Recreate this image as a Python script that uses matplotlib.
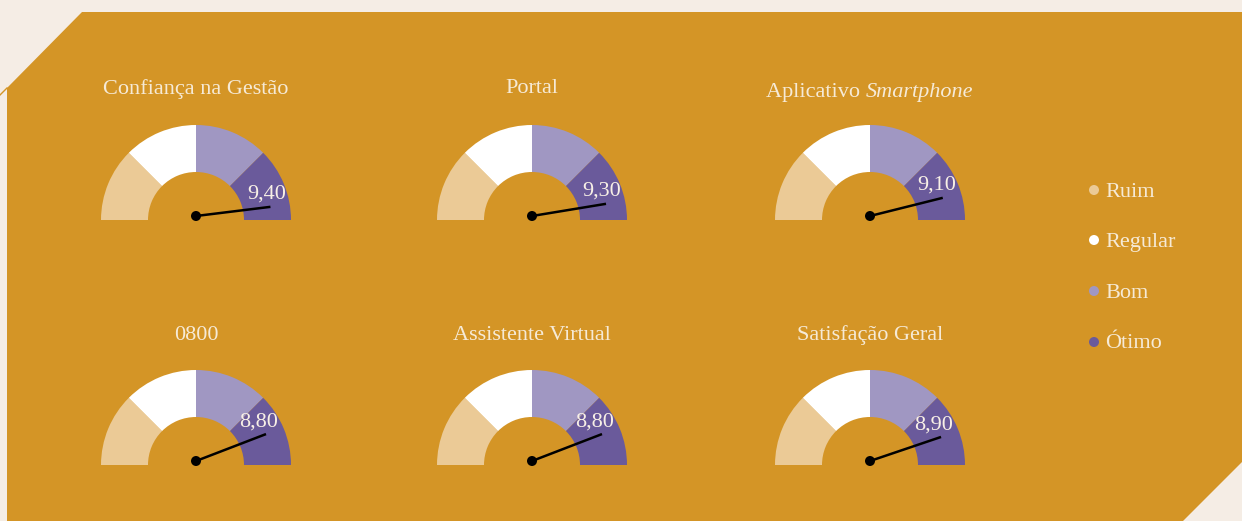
import numpy as np
import matplotlib
matplotlib.use("Agg")
import matplotlib.pyplot as plt
from matplotlib.patches import Wedge, Polygon, Circle

# ---- data ----
titles = ["Confiança na Gestão", "Portal", ("Aplicativo ", "Smartphone"),
          "0800", "Assistente Virtual", "Satisfação Geral"]
values = [9.40, 9.30, 9.10, 8.80, 8.80, 8.90]
value_labels = ["9,40", "9,30", "9,10", "8,80", "8,80", "8,90"]
bands = ["Ruim", "Regular", "Bom", "Ótimo"]
band_colors = ["#ebca96", "#ffffff", "#a097c2", "#6a5a9b"]
GAUGE_MIN, GAUGE_MAX = 2.0, 9.7

BG = "#f5ede5"
GOLD = "#d49526"
TXT = "#f6ead6"

W, H = 1242, 521
fig = plt.figure(figsize=(W / 100, H / 100), dpi=100)
fig.patch.set_facecolor(BG)
ax = fig.add_axes([0, 0, 1, 1])
ax.set_xlim(0, W)
ax.set_ylim(0, H)
ax.set_aspect("equal")
ax.axis("off")
renderer = fig.canvas.get_renderer()

def P(x, y):
    return (x, H - y)

poly = [P(7, 521), P(7, 88), P(82, 12), P(1242, 12), P(1242, 462), P(1183, 521)]
ax.add_patch(Polygon(poly, closed=True, facecolor=GOLD, edgecolor="none"))
ax.plot([0, 7], [H - 95, H - 88], color=GOLD, lw=1)

serif = ["Liberation Serif", "DejaVu Serif"]

centers = [(196, 220), (532, 220), (870, 220), (196, 465), (532, 465), (870, 465)]
title_base = [94, 93, 97, 340, 340, 340]
R_OUT, R_IN = 95, 48
TFS = 16

for i, (cx, cy) in enumerate(centers):
    c = P(cx, cy)
    n = len(bands)
    for k in range(n):
        t1 = 180 - (k + 1) * 180 / n
        t2 = 180 - k * 180 / n
        ax.add_patch(Wedge(c, R_OUT, t1, t2, width=R_OUT - R_IN,
                           facecolor=band_colors[k], edgecolor="none"))
    # needle
    frac = (values[i] - GAUGE_MIN) / (GAUGE_MAX - GAUGE_MIN)
    ang = np.deg2rad(180 * (1 - frac))
    px, py = c[0], c[1] + 4
    L = 75
    ax.plot([px, px + L * np.cos(ang)], [py, py + L * np.sin(ang)],
            color="black", lw=1.8, solid_capstyle="butt", zorder=5)
    ax.add_patch(Circle((px, py), 5, facecolor="black", edgecolor="none", zorder=6))
    # value label
    la = ang + np.deg2rad(14)
    ax.text(c[0] + 76 * np.cos(la), c[1] + 78 * np.sin(la) - 2, value_labels[i],
            ha="center", va="center", fontsize=16, color="#f8f0e6",
            family=serif, zorder=7)
    # title
    t = titles[i]
    ty = H - title_base[i]
    if isinstance(t, tuple):
        a = ax.text(0, ty, t[0], ha="left", va="baseline", fontsize=TFS,
                    color=TXT, family=serif)
        b = ax.text(0, ty, t[1], ha="left", va="baseline", fontsize=TFS,
                    color=TXT, family=serif, style="italic")
        wa = a.get_window_extent(renderer).width
        wb = b.get_window_extent(renderer).width
        x0 = cx - (wa + wb) / 2
        a.set_x(x0)
        b.set_x(x0 + wa)
    else:
        ax.text(cx, ty, t, ha="center", va="baseline", fontsize=TFS,
                color=TXT, family=serif)

# legend
leg_y = [190, 240, 291, 342]
leg_base = [197, 247, 298, 348]
for k, lab in enumerate(bands):
    ax.add_patch(Circle(P(1094, leg_y[k]), 5, facecolor=band_colors[k], edgecolor="none"))
    ax.text(1105, H - leg_base[k], lab, ha="left", va="baseline", fontsize=16,
            color=TXT, family=serif)

fig.savefig("out.png", dpi=100, facecolor=BG)
